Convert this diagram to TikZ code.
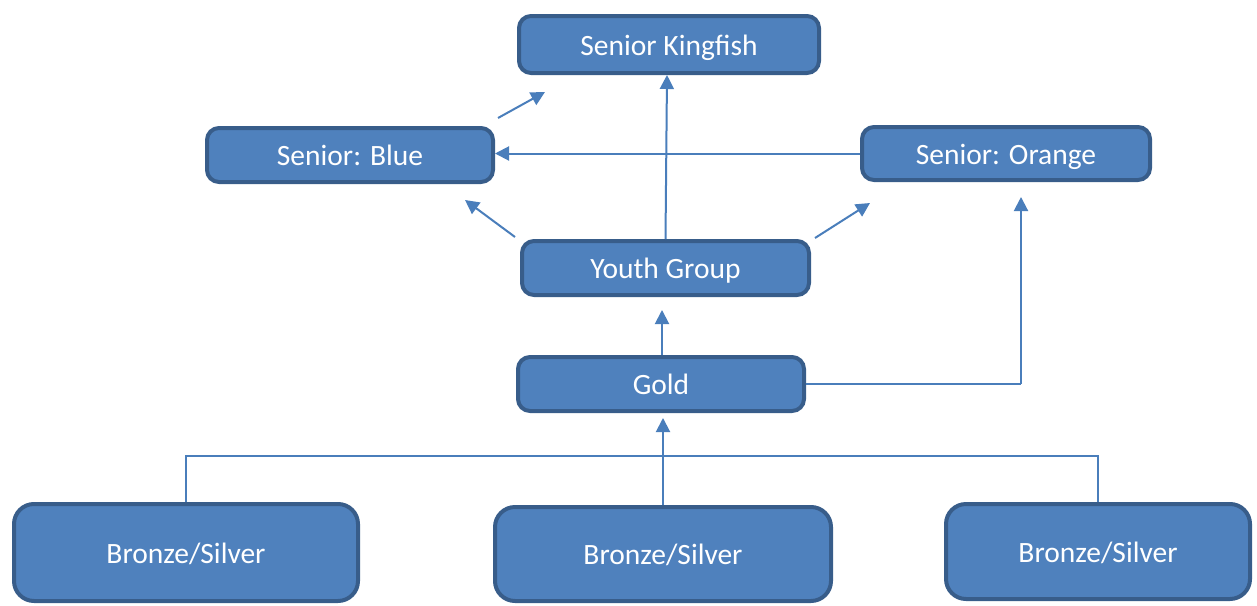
\documentclass[tikz,border=0pt]{standalone}
\usepackage{fontspec}
\setmainfont{Carlito}
\usetikzlibrary{arrows.meta,calc}
\definecolor{boxfill}{HTML}{4F81BD}
\definecolor{boxline}{HTML}{385D8A}
\definecolor{conn}{HTML}{4A7EBB}
\begin{document}
\begin{tikzpicture}[x=1pt,y=-1pt,
  box/.style={draw=boxline,line width=4pt,fill=boxfill,rounded corners=12pt,
    text=white,font=\fontsize{29.5}{34}\selectfont,inner sep=0pt,anchor=center,
    text height=23pt,text depth=2pt},
  bigbox/.style={box,rounded corners=20pt},
  arr/.style={draw=conn,line width=2pt,-{Triangle[length=14pt,width=14pt]}},
  thin/.style={draw=conn,line width=1.6pt}]
\useasboundingbox (0,0) rectangle (1257,605);
\node[box,minimum width=300pt,minimum height=57pt] (king) at (669,44.5) {Senior Kingfish};
\node[box,minimum width=286pt,minimum height=54pt] (blue) at (350,155) {Senior: Blue};
\node[box,minimum width=288pt,minimum height=53pt] (orange) at (1006,153.5) {Senior: Orange};
\node[box,minimum width=287pt,minimum height=54pt] (youth) at (665.5,268) {Youth Group};
\node[box,minimum width=286pt,minimum height=54pt] (gold) at (661,384) {Gold};
\node[bigbox,minimum width=344pt,minimum height=97pt] (b1) at (186,552.5) {Bronze/Silver};
\node[bigbox,minimum width=336pt,minimum height=94pt] (b2) at (663,554) {Bronze/Silver};
\node[bigbox,minimum width=304pt,minimum height=95pt] (b3) at (1098,551.5) {Bronze/Silver};
% free-end coordinates
\coordinate (fa1) at (498,118);
\coordinate (fa2) at (545,92);
\coordinate (fb1) at (515,237);
\coordinate (fb2) at (465,200);
\coordinate (fc1) at (815,238);
\coordinate (fc2) at (870,203);
\coordinate (ytip) at (662,310);
\coordinate (gtip) at (663,418);
\coordinate (otip) at (1021,197);
\coordinate (ktip) at (667,75);
\coordinate (bar) at (0,456);
% connectors
\draw[arr] (youth.north) -- (ktip);
\draw[arr] (orange.west) -- (orange.west -| blue.east);
\draw[arr] (fa1) -- (fa2);
\draw[arr] (fb1) -- (fb2);
\draw[arr] (fc1) -- (fc2);
\draw[arr] (gold.north -| ytip) -- (ytip);
\draw[thin] (gold.east) -- (gold.east -| otip);
\draw[arr] (otip |- gold.east) -- (otip);
\draw[thin] (b1.north) -- (b1.north |- bar) -- (b3.north |- bar) -- (b3.north);
\draw[arr] (b2.north -| gtip) -- (gtip);
\end{tikzpicture}
\end{document}
